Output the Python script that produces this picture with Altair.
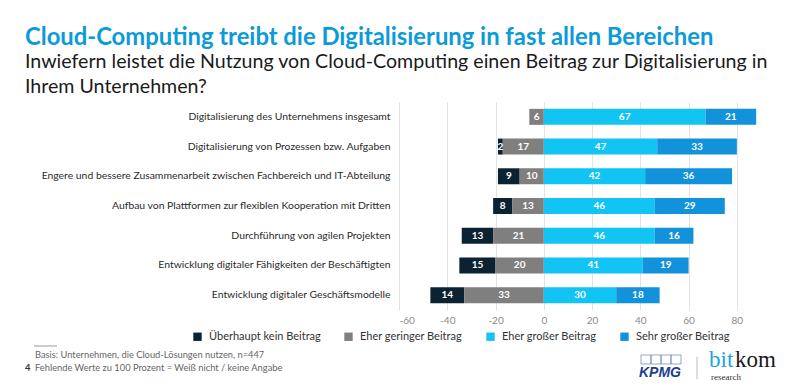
import altair as alt
import pandas as pd

items = [
    "Digitalisierung des Unternehmens insgesamt",
    "Digitalisierung von Prozessen bzw. Aufgaben",
    "Engere und bessere Zusammenarbeit zwischen Fachbereich und IT-Abteilung",
    "Aufbau von Plattformen zur flexiblen Kooperation mit Dritten",
    "Durchführung von agilen Projekten",
    "Entwicklung digitaler Fähigkeiten der Beschäftigten",
    "Entwicklung digitaler Geschäftsmodelle",
]
series = ["Überhaupt kein Beitrag", "Eher geringer Beitrag", "Eher großer Beitrag", "Sehr großer Beitrag"]
kein = [0, 2, 9, 8, 13, 15, 14]
gering = [6, 17, 10, 13, 21, 20, 33]
gross = [67, 47, 42, 46, 46, 41, 30]
sehr = [21, 33, 36, 29, 16, 19, 18]
colors = ["#0b2232", "#7f7f7f", "#12c4f4", "#1292da"]
ticks = [-60, -40, -20, 0, 20, 40, 60, 80]

rows = []
for i, it in enumerate(items):
    rows += [
        dict(item=it, serie=series[0], v=kein[i], start=-gering[i] - kein[i], end=-gering[i]),
        dict(item=it, serie=series[1], v=gering[i], start=-gering[i], end=0),
        dict(item=it, serie=series[2], v=gross[i], start=0, end=gross[i]),
        dict(item=it, serie=series[3], v=sehr[i], start=gross[i], end=gross[i] + sehr[i]),
    ]
df = pd.DataFrame(rows)
df["mid"] = (df["start"] + df["end"]) / 2

FONT = "Lato"
W, H = 362, 208
LEFT, TOP = 391, 94

yenc = alt.Y("item:N", sort=items, title=None,
             scale=alt.Scale(paddingInner=0.46, paddingOuter=0.23),
             axis=alt.Axis(labelFontSize=10.4, labelColor="#2a2a2a", labelFont=FONT,
                           ticks=False, domain=False, labelPadding=9, labelLimit=400))
xscale = alt.Scale(domain=[-60, 90], nice=False, zero=False)

bars = alt.Chart(df).mark_bar(height=16).encode(
    y=yenc,
    x=alt.X("start:Q", scale=xscale, title=None,
            axis=alt.Axis(values=ticks, grid=True, gridColor="#e3e3e3", domain=False, ticks=False,
                          labelExpr="replace(datum.label, '−', '-')",
                          labelFontSize=10, labelColor="#8a8a8a", labelFont=FONT, labelPadding=5)),
    x2="end:Q",
    color=alt.Color("serie:N", sort=series,
                    scale=alt.Scale(domain=series, range=colors),
                    legend=alt.Legend(title=None, orient="none", direction="horizontal",
                                      legendX=-207, legendY=229, symbolType="square",
                                      symbolSize=70, symbolStrokeWidth=0, labelFontSize=11,
                                      labelFont=FONT, labelColor="#333333", columnPadding=22,
                                      labelOffset=6)),
)

labels = alt.Chart(df).transform_filter("datum.v > 0").mark_text(
    color="white", fontWeight="bold", fontSize=10, font=FONT
).encode(y=alt.Y("item:N", sort=items), x=alt.X("mid:Q", scale=xscale), text="v:Q")

def txt(s, x, y, size, color, weight="normal", font=FONT, align="left", style="normal"):
    return alt.Chart(pd.DataFrame({"t": [s]})).mark_text(
        align=align, baseline="alphabetic", fontSize=size, color=color, fontWeight=weight,
        font=font, fontStyle=style
    ).encode(text="t:N", x=alt.value(x - 399), y=alt.value(y - 102))

ann = [
    txt("Cloud-Computing treibt die Digitalisierung in fast allen Bereichen", 25, 45, 23.8, "#0c9ad8", "bold"),
    txt("Inwiefern leistet die Nutzung von Cloud-Computing einen Beitrag zur Digitalisierung in", 25, 68, 19.6, "#1a1a1a"),
    txt("Ihrem Unternehmen?", 25, 93, 19.6, "#1a1a1a"),
    txt("Basis: Unternehmen, die Cloud-Lösungen nutzen, n=447", 35, 358, 9.3, "#666666"),
    txt("Fehlende Werte zu 100 Prozent = Weiß nicht / keine Angabe", 35, 371, 9.3, "#666666"),
    txt("4", 25, 371, 9.3, "#333333", "bold"),
    txt("KPMG", 639, 377, 14, "#1b3f8f", "bold", "Liberation Sans", style="italic"),
    txt("bit", 709, 367, 23, "#1aa9dd", "normal", "Liberation Serif"),
    txt("kom", 735, 367, 23, "#1a1a1a", "normal", "Liberation Serif"),
    txt("research", 711, 380, 9, "#333333", "normal", "Liberation Serif"),
]
rule_foot = alt.Chart(pd.DataFrame({"a": [0]})).mark_rule(color="#999999", strokeWidth=1).encode(
    x=alt.value(34 - 399), x2=alt.value(57 - 399), y=alt.value(346 - 102))
rule_logo = alt.Chart(pd.DataFrame({"a": [0]})).mark_rule(color="#bbbbbb", strokeWidth=1).encode(
    x=alt.value(697 - 399), y=alt.value(357 - 102), y2=alt.value(379 - 102))
boxes = []
for k in range(4):
    bx = 641 + k * 10
    boxes.append(alt.Chart(pd.DataFrame({"a": [k]})).mark_rect(
        fill=None, stroke="#6a7fb8", strokeWidth=0.7
    ).encode(x=alt.value(bx - 399), x2=alt.value(bx + 10 - 399),
             y=alt.value(355 - 102), y2=alt.value(364 - 102)))

chart = alt.layer(bars, labels, *ann, rule_foot, rule_logo, *boxes).properties(
    width=W, height=H,
    autosize=alt.AutoSizeParams(type="none"),
    padding={"left": LEFT, "top": TOP, "right": 800 - 16 - LEFT - W, "bottom": 390 - 16 - TOP - H},
).configure(background="white").configure_view(stroke=None)

chart.save("out.html", embed_options={"renderer": "svg", "actions": False})
